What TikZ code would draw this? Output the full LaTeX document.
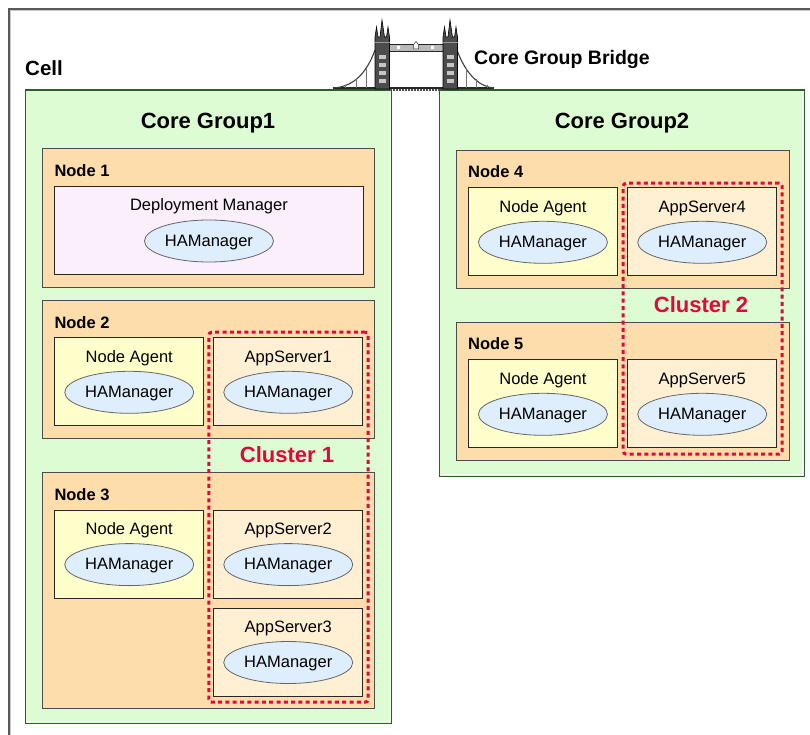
\documentclass[tikz,border=0pt]{standalone}
\usepackage{fontspec}
\setmainfont{Liberation Sans}
\usetikzlibrary{shapes.geometric}

\definecolor{groupgreen}{HTML}{DDFCD3}
\definecolor{groupedge}{HTML}{2E5E2E}
\definecolor{hostpeach}{HTML}{FEDDAD}
\definecolor{dmpink}{HTML}{FCEFFC}
\definecolor{agentyellow}{HTML}{FFFFCC}
\definecolor{servercream}{HTML}{FFF0D4}
\definecolor{hablue}{HTML}{DEEEFC}
\definecolor{clusterred}{HTML}{DC0A3C}

\tikzset{
  plain/.style={font=\fontsize{16.5}{19}\selectfont},
  hostlabel/.style={font=\fontsize{16.5}{19}\bfseries\selectfont,anchor=base west,inner sep=0pt},
  bigtitle/.style={font=\fontsize{22}{26}\bfseries\selectfont,anchor=base,inner sep=0pt},
  group/.style={draw=groupedge,fill=groupgreen,line width=1.2pt,anchor=north west,inner sep=0pt},
  host/.style={draw=black!70,fill=hostpeach,line width=1.1pt,anchor=north west,inner sep=0pt,
    minimum width=332pt,minimum height=138.3pt},
  proc/.style={draw=black!85,line width=0.9pt,anchor=north west,inner sep=0pt,
    minimum width=149pt,minimum height=88pt},
  dmgr/.style={proc,fill=dmpink,minimum width=308.4pt},
  agent/.style={proc,fill=agentyellow},
  server/.style={proc,fill=servercream},
  ham/.style={plain,ellipse,draw=black!60,fill=hablue,line width=0.8pt,inner sep=0pt,
    minimum width=129pt,minimum height=42pt,text height=1em,text depth=0pt},
  cluster/.style={draw=clusterred,line width=3pt,dash pattern=on 4pt off 3.3pt,
    rounded corners=3pt,anchor=north west,inner sep=0pt},
  clusterlabel/.style={font=\fontsize{22}{26}\bfseries\selectfont,text=clusterred,anchor=base,inner sep=0pt}
}

\begin{document}
\begin{tikzpicture}[x=1pt,y=-1pt]
\useasboundingbox (0,0) rectangle (810,735);

% cell frame
\draw[black!65,line width=1.3pt] (9,735) -- (9,9) -- (810,9);
\draw[black!22,line width=1pt] (10.9,735) -- (10.9,10.9) -- (810,10.9);
\node[font=\fontsize{20.5}{24}\bfseries\selectfont,anchor=base west,inner sep=0pt] (cell) at (25,76) {Cell};

% core groups
\node[group,minimum width=366pt,minimum height=633.5pt] (cg1) at (25,89.5) {};
\node[group,minimum width=365pt,minimum height=386.5pt] (cg2) at (439,89.5) {};
\foreach \g in {cg1,cg2}
  \draw[white,line width=1.2pt] ([shift={(2.5,-2.5)}]\g.south west) -- ([shift={(-2.5,-2.5)}]\g.south east)
    -- ([shift={(-2.5,2.5)}]\g.north east);
\node[bigtitle] (cg1-title) at (208,129) {Core Group1};
\node[bigtitle] (cg2-title) at (622,129) {Core Group2};

% bridge
\draw[black!85,line width=1.6pt] (333,88) -- (494,88);
\draw[black!70,line width=1.4pt,dash pattern=on 2pt off 1pt] (389.5,90.2) -- (443,90.2);
\draw[black!75,line width=1.1pt] (375,50) .. controls (366,75) and (352,87) .. (333,88);
\draw[black!75,line width=1.1pt] (457,50) .. controls (466,75) and (480,87) .. (494,88);
\foreach \hx/\hy in {366/68,356/79,345/85,466/68,476/79,487/85}
  \draw[black!55,line width=0.6pt] (\hx,\hy) -- (\hx,88);
\fill[gray!55] (389.5,44) rectangle (443,51);
\draw[black!85,line width=0.8pt] (389.5,44) rectangle (443,51);
\fill[white] (397,46) rectangle (400,49) (431,46) rectangle (434,49);
\filldraw[fill=white,draw=black!80,line width=0.5pt] (413.5,49) -- (413.5,44.5) -- (416,41.5) -- (418.5,44.5) -- (418.5,49) -- cycle;
\foreach \tx in {375,443}{
  \begin{scope}[xshift=\tx pt]
    \filldraw[fill=black!70,draw=black,line width=0.6pt] (0,89) -- (0,37) -- (1.5,27) -- (3,37)
      -- (5,37) -- (7,20) -- (9.5,37) -- (11.5,37) -- (13,27) -- (14.5,37) -- (14.5,89) -- cycle;
    \draw[black!40,line width=0.7pt] (0,42) -- (14.5,42);
    \foreach \wy in {55,63,71,79}
      \fill[gray!45] (3.5,\wy) rectangle (11,\wy+4);
  \end{scope}
}
\node[font=\fontsize{19.5}{23}\bfseries\selectfont,anchor=base west,inner sep=0pt] (bridge) at (474,65) {Core Group Bridge};

% nodes
\node[host] (n1) at (42.3,148.3) {};
\node[host] (n2) at (42.3,300) {};
\node[host,minimum height=236pt] (n3) at (42.3,472.3) {};
\node[host,minimum width=333pt] (n4) at (456,150) {};
\node[host,minimum width=333pt] (n5) at (456,321.7) {};
\foreach \n/\t in {n1/Node 1,n2/Node 2,n3/Node 3,n4/Node 4,n5/Node 5}
  \node[hostlabel] (\n-label) at ([shift={(12,28)}]\n.north west) {\t};

% processes
\node[dmgr] (dm) at (54.3,186) {};
\node[agent] (a2) at (54.3,337.3) {};
\node[server] (s1) at (213.3,337.3) {};
\node[agent] (a3) at (54.3,509.6) {};
\node[server] (s2) at (213.3,509.6) {};
\node[server] (s3) at (213.3,607.5) {};
\node[agent] (a4) at (468,187.3) {};
\node[server] (s4) at (627.3,187.3) {};
\node[agent] (a5) at (468,359.3) {};
\node[server] (s5) at (627.3,359.3) {};
\foreach \b/\t in {dm/Deployment Manager,a2/Node Agent,s1/AppServer1,a3/Node Agent,s2/AppServer2,
    s3/AppServer3,a4/Node Agent,s4/AppServer4,a5/Node Agent,s5/AppServer5}{
  \node[plain,anchor=base,inner sep=0pt] (\b-name) at ([yshift=-25pt]\b.north) {\t};
  \node[ham] (\b-ham) at ([yshift=-55pt]\b.north) {HAManager};
}

% clusters
\node[cluster,minimum width=159.4pt,minimum height=370pt] (c1) at (207.3,330.7) {};
\node[cluster,minimum width=159pt,minimum height=271pt] (c2) at (621.7,181.7) {};
\node[clusterlabel] (c1-label) at (287,462.7) {Cluster 1};
\node[clusterlabel] (c2-label) at (701,312.7) {Cluster 2};
\end{tikzpicture}
\end{document}
